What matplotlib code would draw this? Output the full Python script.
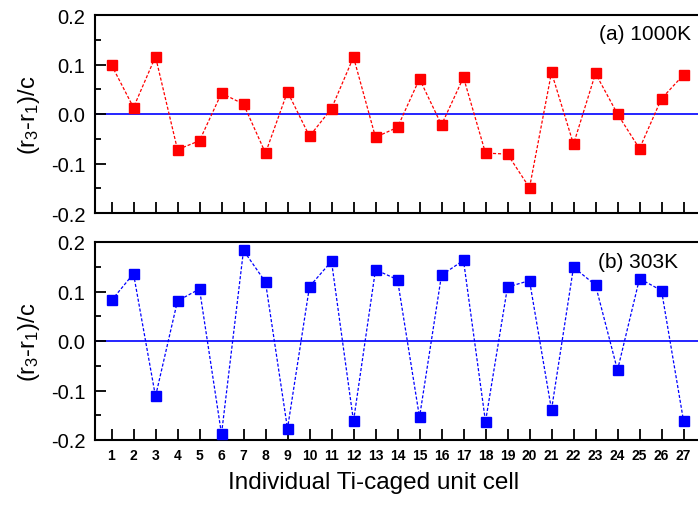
import matplotlib
matplotlib.use("Agg")
import matplotlib.pyplot as plt
import numpy as np

cells = list(range(1, 28))
vals_1000K = [0.099, 0.013, 0.116, -0.072, -0.054, 0.042, 0.020, -0.079, 0.045, -0.045,
              0.011, 0.115, -0.047, -0.027, 0.071, -0.022, 0.074, -0.079, -0.081, -0.149,
              0.084, -0.061, 0.082, 0.000, -0.070, 0.031, 0.079]
vals_303K = [0.082, 0.136, -0.112, 0.081, 0.105, -0.188, 0.183, 0.119, -0.177, 0.110,
             0.161, -0.162, 0.144, 0.124, -0.154, 0.133, 0.163, -0.163, 0.109, 0.122,
             -0.139, 0.149, 0.113, -0.059, 0.126, 0.102, -0.161]
yticks = [-0.2, -0.1, 0.0, 0.1, 0.2]
ytick_labels = ["-0.2", "-0.1", "0.0", "0.1", "0.2"]
ylabel = r"(r$_3$-r$_1$)/c"
xlabel = "Individual Ti-caged unit cell"
labels = ["(a) 1000K", "(b) 303K"]

plt.rcParams['font.family'] = ['Liberation Sans', 'DejaVu Sans']
plt.rcParams['mathtext.fontset'] = 'custom'
plt.rcParams['mathtext.rm'] = 'Liberation Sans'
plt.rcParams['mathtext.default'] = 'regular'

fig = plt.figure(figsize=(6.98, 5.06), dpi=100)
W, H = 698, 506
left = 95 / W
width = 605 / W
ax1 = fig.add_axes([left, 1 - 214 / H, width, 198 / H])
ax2 = fig.add_axes([left, 1 - 441 / H, width, 198 / H])

for ax, vals, col, lab, lx, ly in [
        (ax1, vals_1000K, '#ff0000', labels[0], 691, 34),
        (ax2, vals_303K, '#0000ff', labels[1], 678, 263)]:
    ax.axhline(0, color='#0000ff', lw=1.2, zorder=1)
    ax.plot(cells, vals, ls=(0, (2.5, 1.5)), lw=0.9, color=col, marker='s',
            markersize=7.2, markerfacecolor=col, markeredgecolor=col, zorder=3)
    ax.set_xlim(0.25, 27.75)
    ax.set_ylim(-0.2, 0.2)
    ax.set_yticks(yticks)
    ax.set_yticklabels(ytick_labels)
    ax.set_yticks(np.arange(-0.15, 0.2, 0.1), minor=True)
    ax.set_xticks(cells)
    ax.spines['right'].set_visible(False)
    for s in ['left', 'top', 'bottom']:
        ax.spines[s].set_linewidth(1.5)
    ax.tick_params(axis='y', which='major', direction='in', length=8, width=1.3,
                   labelsize=14.5, pad=7)
    ax.tick_params(axis='y', which='minor', direction='in', length=4, width=1.3)
    ax.tick_params(axis='x', which='major', direction='in', length=8, width=1.3)
    ax.set_ylabel(ylabel, fontsize=17)
    ax.yaxis.set_label_coords(-0.088, 0.5)
    fig.text(lx / W, 1 - ly / H, lab, ha='right', va='center', fontsize=15)

ax1.tick_params(axis='x', labelbottom=False)
ax2.set_xticklabels([str(c) for c in cells], fontsize=10, fontweight='bold')
ax2.tick_params(axis='x', pad=6)
ax2.set_xlabel(xlabel, fontsize=17.5)
ax2.xaxis.set_label_coords(0.461, -0.158)
ax2.xaxis.label.set_va('top')

fig.savefig("out.png", dpi=100)
